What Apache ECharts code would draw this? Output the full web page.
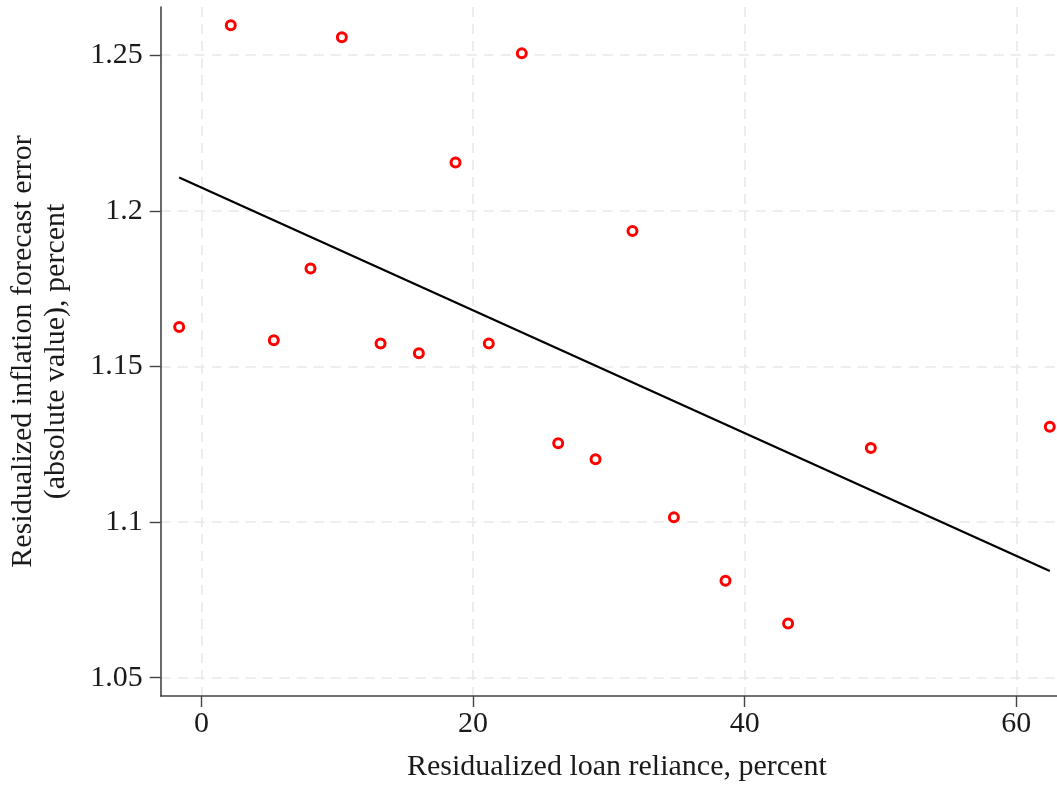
<!DOCTYPE html>
<html>
<head>
<meta charset="utf-8">
<script src="https://cdn.jsdelivr.net/npm/echarts@6/dist/echarts.min.js"></script>
<style>
html,body{margin:0;padding:0;background:#fff;}
#chart{width:1057px;height:787px;}
</style>
</head>
<body>
<div id="chart"></div>
<script>
// Scatter data: residualized loan reliance (x) vs residualized forecast error (y)
const loanReliance = [-1.64, 2.16, 5.33, 8.03, 10.34, 13.19, 16.01, 18.71, 21.16, 23.59, 26.27, 29.02, 31.74, 34.79, 38.59, 43.2, 49.29, 62.47];
const forecastError = [1.1627, 1.2596, 1.1584, 1.1815, 1.2558, 1.1574, 1.1542, 1.2155, 1.1574, 1.2506, 1.1253, 1.1202, 1.1935, 1.1015, 1.0811, 1.0674, 1.1238, 1.1306];
// Fitted line endpoints
const fitX = [-1.64, 62.47];
const fitY = [1.2107, 1.0843];
// Tick values
const xTicks = [0, 20, 40, 60];
const yTicks = [1.05, 1.1, 1.15, 1.2, 1.25];
const yTickLabels = ['1.05', '1.1', '1.15', '1.2', '1.25'];

const font = '"Liberation Serif", "DejaVu Serif", serif';
const chart = echarts.init(document.getElementById('chart'), null, {renderer: 'canvas'});
const gridLine = {show: true, lineStyle: {color: '#e9e9e9', width: 1.6, type: [10, 7]}};

chart.setOption({
  animation: false,
  backgroundColor: '#ffffff',
  grid: {left: 160.7, right: 0, top: 7, bottom: 91, containLabel: false, outerBoundsMode: 'none'},
  xAxis: {
    type: 'value', min: -3, max: 63,
    name: 'Residualized loan reliance, percent',
    nameLocation: 'middle', nameGap: 56,
    nameTextStyle: {fontFamily: font, fontSize: 30, color: '#1a1a1a', padding: [0, 0, 0, 16]},
    axisLine: {show: true, onZero: false, lineStyle: {color: '#444', width: 1.6}},
    axisTick: {show: true, length: 11, lineStyle: {color: '#444', width: 1.4}, customValues: xTicks},
    axisLabel: {fontFamily: font, fontSize: 30, color: '#1a1a1a', margin: 13, customValues: xTicks},
    splitLine: gridLine
  },
  yAxis: {
    type: 'value', min: 1.0441, max: 1.2655,
    name: 'Residualized inflation forecast error\n(absolute value), percent',
    nameLocation: 'middle', nameRotate: 90, nameGap: 88,
    nameTextStyle: {fontFamily: font, fontSize: 30, color: '#1a1a1a', lineHeight: 33},
    axisLine: {show: true, onZero: false, lineStyle: {color: '#444', width: 1.6}},
    axisTick: {show: true, length: 11, lineStyle: {color: '#444', width: 1.4}, customValues: yTicks},
    axisLabel: {fontFamily: font, fontSize: 30, color: '#1a1a1a', margin: 18, customValues: yTicks,
      formatter: v => { const i = yTicks.findIndex(t => Math.abs(t - v) < 1e-9); return i >= 0 ? yTickLabels[i] : ''; }},
    splitLine: gridLine
  },
  series: [
    {
      type: 'scatter',
      data: loanReliance.map((x, i) => [x, forecastError[i]]),
      symbol: 'circle', symbolSize: 9,
      itemStyle: {color: '#ffffff', borderColor: '#ff0000', borderWidth: 3, opacity: 1},
      clip: false, z: 3
    },
    {
      type: 'line',
      data: fitX.map((x, i) => [x, fitY[i]]),
      symbol: 'none',
      lineStyle: {color: '#000', width: 2.2},
      z: 2
    }
  ]
});
</script>
</body>
</html>
